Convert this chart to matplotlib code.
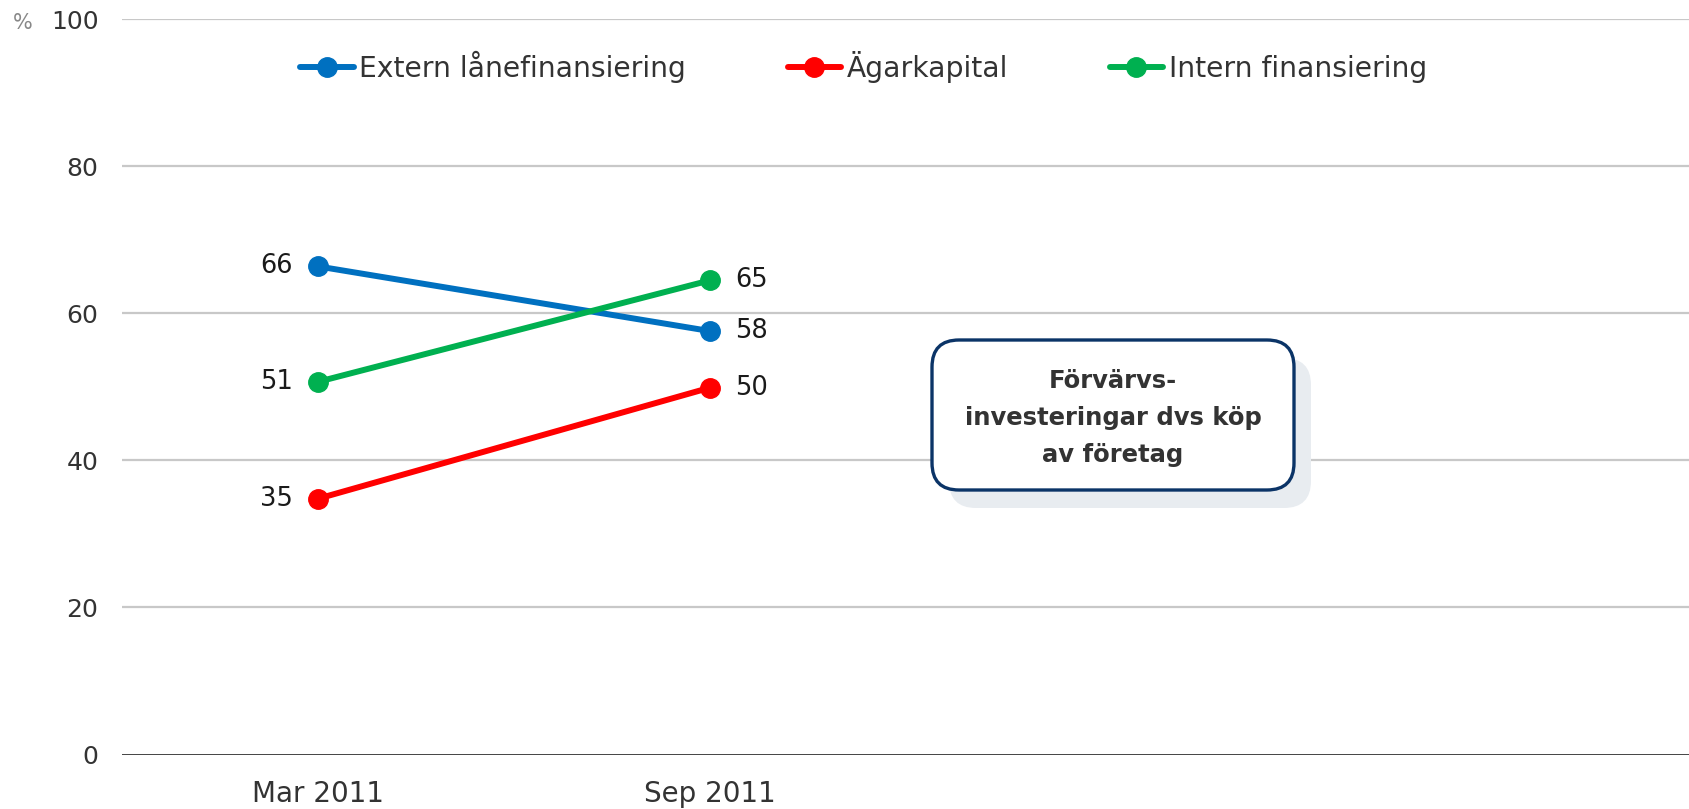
import matplotlib.pyplot as plt
from matplotlib.patches import FancyBboxPatch

# data
periods = ["Mar 2011", "Sep 2011", "", ""]
extern = [66.4, 57.6]
agarkapital = [34.8, 49.9]
intern = [50.7, 64.5]
extern_labels = ["66", "58"]
agar_labels = ["35", "50"]
intern_labels = ["51", "65"]
series_names = ["Extern lånefinansiering", "Ägarkapital", "Intern finansiering"]
y_ticks = [0, 20, 40, 60, 80, 100]
note_text = "Förvärvs-\ninvesteringar dvs köp\nav företag"

COLORS = ["#0070c0", "#ff0000", "#00b050"]
FONT = ["DejaVu Sans"]

fig = plt.figure(figsize=(16.9, 8.09), dpi=100)
W, H = 1690, 809
ax = fig.add_axes([122 / W, 1 - 754.5 / H, 1 - 122 / W, (754.5 - 19.4) / H])

x = [0, 1]
series = [extern, agarkapital, intern]
labels = [extern_labels, agar_labels, intern_labels]

for vals, labs, col, name in zip(series, labels, COLORS, series_names):
    ax.plot(x, vals, "-o", color=col, linewidth=4.3, markersize=14,
            solid_capstyle="round", label=name, zorder=3)
    ax.annotate(labs[0], (x[0], vals[0]), xytext=(-18, 0),
                textcoords="offset points", ha="right", va="center",
                fontsize=18.5, color="#1a1a1a", family=FONT)
    ax.annotate(labs[1], (x[1], vals[1]), xytext=(18, 0),
                textcoords="offset points", ha="left", va="center",
                fontsize=18.5, color="#1a1a1a", family=FONT)

ax.set_xlim(-0.5, 3.5)
ax.set_ylim(0, 100)
ax.set_xticks(range(len(periods)))
ax.set_xticklabels(periods, family=FONT, fontsize=20, color="#333333")
ax.set_yticks(y_ticks)
ax.set_yticklabels([str(v) for v in y_ticks], family=FONT, fontsize=18, color="#333333")
ax.tick_params(axis="both", length=0)
ax.tick_params(axis="y", pad=17)
ax.tick_params(axis="x", pad=18)

for v in y_ticks[1:]:
    ax.axhline(v, color="#c8c8c8", linewidth=1.6, zorder=1)
ax.axhline(0, color="#333333", linewidth=2.0, zorder=2)
for s in ax.spines.values():
    s.set_visible(False)

fig.text(13 / W, 1 - 29 / H, "%", fontsize=15, color="#888888",
         family=FONT, ha="left", va="baseline")

fig.legend(loc="center", bbox_to_anchor=(0.511, 0.917), ncol=3, frameon=False,
           prop={"family": FONT, "size": 20.3}, handlelength=1.9,
           handletextpad=0.2, columnspacing=3.6, labelcolor="#333333")

# note box with shadow
bx0, bx1, by0, by1 = 932, 1294, 340, 490
shadow = FancyBboxPatch(((bx0 + 17) / W, 1 - (by1 + 18) / H),
                        (bx1 - bx0) / W, (by1 - by0) / H,
                        boxstyle="round,pad=0,rounding_size=0.016",
                        transform=fig.transFigure, facecolor="#e8ecf0",
                        edgecolor="none", zorder=4, mutation_aspect=W / H)
box = FancyBboxPatch((bx0 / W, 1 - by1 / H), (bx1 - bx0) / W, (by1 - by0) / H,
                     boxstyle="round,pad=0,rounding_size=0.016",
                     transform=fig.transFigure, facecolor="white",
                     edgecolor="#0b3467", linewidth=2.4, zorder=5,
                     mutation_aspect=W / H)
fig.add_artist(shadow)
fig.add_artist(box)
fig.text((bx0 + bx1) / 2 / W, 1 - 418 / H, note_text, ha="center", va="center",
         fontsize=17.5, fontweight="bold", color="#333333", family=FONT,
         linespacing=1.7, zorder=6)

fig.savefig("out.png", dpi=100)
